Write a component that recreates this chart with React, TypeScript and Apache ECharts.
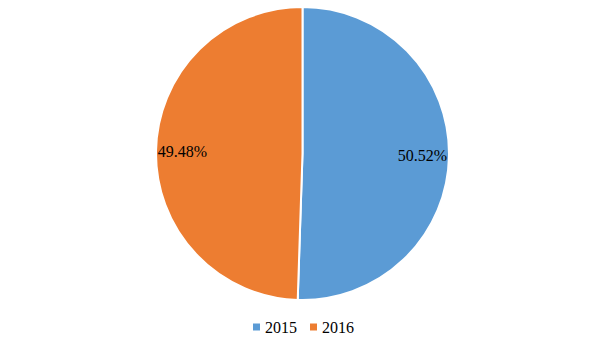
import React, { useEffect, useRef } from "react";
import * as echarts from "echarts";

const categories = ["2015", "2016"];
const values = [50.52, 49.48];
const colors = ["#5B9BD5", "#ED7D31"];

export default function App() {
  const ref = useRef<HTMLDivElement>(null);
  useEffect(() => {
    if (!ref.current) return;
    const chart = echarts.init(ref.current, undefined, { renderer: "svg" });
    const data = categories.map((c, i) => ({ name: c, value: values[i], itemStyle: { color: colors[i] } }));
    chart.setOption({
      animation: false,
      backgroundColor: "#fff",
      legend: {
        bottom: 0,
        left: "center",
        itemWidth: 9,
        itemHeight: 9,
        itemGap: 11,
        icon: "rect",
        textStyle: { fontFamily: "Liberation Serif", fontSize: 16, color: "#000", padding: [0, 0, 0, -1] },
        data: categories,
      },
      series: [
        {
          type: "pie",
          center: [302.5, 153.5],
          radius: 146.5,
          startAngle: 90,
          clockwise: true,
          silent: true,
          label: { show: false },
          labelLine: { show: false },
          itemStyle: { borderColor: "#fff", borderWidth: 2 },
          data,
        },
        {
          type: "pie",
          center: [302.5, 153.5],
          radius: [88, 146],
          startAngle: 90,
          clockwise: true,
          silent: true,
          legendHoverLink: false,
          itemStyle: { color: "rgba(0,0,0,0)" },
          label: {
            show: true,
            position: "inside",
            formatter: (p: any) => p.value.toFixed(2) + "%",
            fontFamily: "Liberation Serif",
            fontSize: 16,
            color: "#000",
          },
          labelLine: { show: false },
          data: categories.map((c, i) => ({ name: c + " ", value: values[i] })),
        },
      ],
    });
    return () => chart.dispose();
  }, []);
  return (
    <div
      ref={ref}
      style={{ position: "fixed", left: 0, top: 0, width: 605, height: 340, background: "#fff" }}
    />
  );
}
